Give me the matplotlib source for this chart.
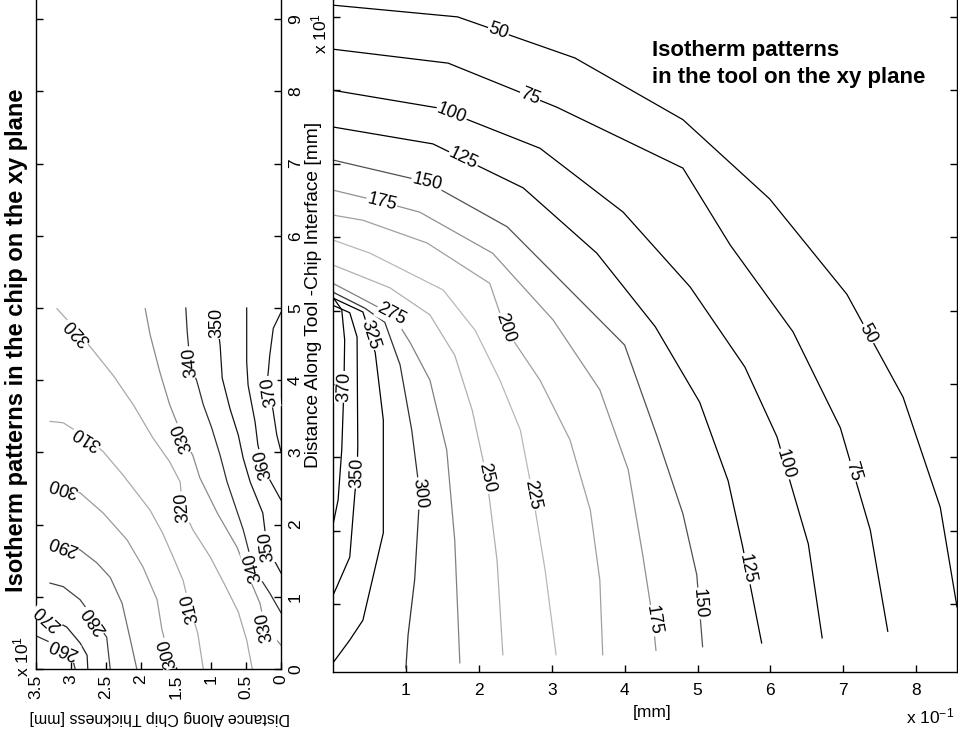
import numpy as np
import matplotlib.pyplot as plt

plt.rcParams['font.family'] = ['Liberation Sans', 'DejaVu Sans']
plt.rcParams['mathtext.fontset'] = 'custom'
plt.rcParams['mathtext.rm'] = 'Liberation Sans'
plt.rcParams['mathtext.default'] = 'regular'

W, H = 958, 730

# ---- chip isotherms (x: chip thickness, y: along tool-chip interface, both x 10^-1 mm)
chip_levels = [260, 270, 280, 290, 300, 310, 320, 330, 340, 350, 360, 370]
chip_x = [
    [3.50, 3.30, 3.11, 2.99, 2.94],
    [3.49, 3.33, 3.06, 2.87, 2.77, 2.76],
    [3.30, 3.11, 2.87, 2.69, 2.49, 2.44],
    [3.30, 3.11, 2.87, 2.63, 2.44, 2.27, 2.16, 2.06],
    [3.30, 3.11, 2.87, 2.54, 2.20, 1.97, 1.77, 1.70, 1.61, 1.59],
    [3.30, 3.11, 2.77, 2.54, 2.26, 1.87, 1.69, 1.54, 1.40, 1.30, 1.19, 1.11],
    [3.20, 2.90, 2.69, 2.40, 2.11, 1.83, 1.59, 1.44, 1.41, 1.26, 1.01, 0.80, 0.61, 0.49, 0.41],
    [1.94, 1.87, 1.73, 1.59, 1.40, 1.26, 1.16, 0.91, 0.63, 0.44, 0.30, 0.23, 0.06, 0.00],
    [1.36, 1.34, 1.30, 1.20, 1.11, 0.99, 0.87, 0.77, 0.54, 0.40, 0.16, 0.00],
    [0.91, 0.91, 0.87, 0.84, 0.73, 0.61, 0.54, 0.44, 0.26, 0.20, 0.00],
    [0.49, 0.49, 0.47, 0.37, 0.33, 0.26, 0.16, 0.00],
    [0.00, 0.11, 0.16, 0.19, 0.16, 0.11, 0.06, 0.00],
]
chip_y = [
    [0.46, 0.37, 0.29, 0.18, 0.00],
    [0.86, 0.72, 0.58, 0.36, 0.19, 0.00],
    [1.19, 1.14, 0.96, 0.72, 0.44, 0.00],
    [1.79, 1.72, 1.65, 1.47, 1.27, 0.91, 0.44, 0.00],
    [2.58, 2.52, 2.44, 2.16, 1.79, 1.41, 0.96, 0.54, 0.22, 0.00],
    [3.43, 3.41, 3.20, 3.01, 2.69, 2.20, 1.88, 1.55, 1.23, 0.84, 0.50, 0.00],
    [4.99, 4.67, 4.42, 4.07, 3.66, 3.20, 2.87, 2.59, 2.24, 1.93, 1.55, 1.16, 0.79, 0.40, 0.00],
    [4.99, 4.63, 4.11, 3.66, 3.20, 2.96, 2.65, 2.16, 1.69, 1.23, 0.91, 0.58, 0.40, 0.33],
    [5.00, 4.67, 4.25, 3.98, 3.66, 3.34, 2.96, 2.59, 1.93, 1.41, 1.05, 0.78],
    [5.00, 4.79, 4.49, 4.03, 3.61, 3.24, 2.92, 2.59, 2.16, 1.69, 1.33],
    [5.00, 4.25, 3.93, 3.42, 3.10, 2.83, 2.62, 2.34],
    [4.94, 4.72, 4.35, 4.03, 3.84, 3.56, 3.24, 3.01],
]
chip_label_level = [260, 270, 280, 290, 300, 300, 310, 310, 320, 320, 330, 330, 340, 340, 350, 350, 360, 370]
chip_label_x = [3.11, 3.33, 2.66, 3.11, 3.11, 1.61, 2.77, 1.30, 2.90, 1.41, 1.40, 0.23, 1.30, 0.40, 0.91, 0.20, 0.26, 0.16]
chip_label_y = [0.29, 0.72, 0.68, 1.72, 2.52, 0.22, 3.20, 0.84, 4.67, 2.24, 3.20, 0.58, 4.25, 1.41, 4.79, 1.69, 2.83, 3.84]

# ---- tool isotherms (x 10^-1 mm)
tool_levels = [50, 75, 100, 125, 150, 175, 200, 225, 250, 275, 300, 325, 350, 370]
tool_x = [
    [0.00, 1.71, 3.32, 4.80, 5.99, 7.05, 7.82, 8.33, 8.56],
    [0.00, 1.58, 3.07, 4.80, 5.45, 6.31, 6.96, 7.37, 7.61],
    [0.00, 1.44, 2.84, 3.98, 4.90, 5.65, 6.09, 6.52, 6.71],
    [0.00, 1.37, 2.61, 3.62, 4.42, 5.03, 5.42, 5.62, 5.88],
    [0.00, 1.29, 2.39, 3.25, 4.00, 4.44, 4.80, 4.99, 5.07],
    [0.00, 0.67, 1.19, 2.19, 3.02, 3.66, 4.05, 4.25, 4.39, 4.43],
    [0.00, 0.41, 1.29, 2.15, 2.36, 2.84, 3.25, 3.53, 3.66, 3.70],
    [0.00, 0.51, 1.51, 1.95, 2.29, 2.57, 2.74, 2.91, 3.06],
    [0.00, 0.78, 1.33, 1.67, 1.91, 2.11, 2.25, 2.33],
    [0.00, 0.44, 0.82, 1.06, 1.33, 1.56, 1.67, 1.74],
    [0.00, 0.44, 0.71, 0.92, 1.08, 1.19, 1.12, 1.03, 1.00],
    [0.00, 0.41, 0.51, 0.58, 0.69, 0.69, 0.41, 0.23, 0.00],
    [0.00, 0.23, 0.33, 0.34, 0.33, 0.30, 0.23, 0.05, 0.00],
    [0.00, 0.12, 0.16, 0.15, 0.12, 0.07, 0.00],
]
tool_y = [
    [9.16, 9.00, 8.44, 7.60, 6.52, 5.22, 3.82, 2.32, 0.96],
    [8.56, 8.37, 7.77, 6.94, 5.89, 4.71, 3.40, 2.01, 0.63],
    [8.00, 7.76, 7.21, 6.34, 5.32, 4.23, 3.28, 1.82, 0.54],
    [7.50, 7.27, 6.67, 5.78, 4.78, 3.75, 2.68, 1.78, 0.47],
    [7.05, 6.75, 6.14, 5.28, 4.53, 3.30, 2.23, 1.40, 0.42],
    [6.64, 6.48, 6.34, 5.78, 4.87, 3.92, 2.83, 1.66, 0.77, 0.37],
    [6.30, 6.23, 5.92, 5.37, 4.76, 4.05, 3.24, 2.28, 1.33, 0.31],
    [5.96, 5.78, 5.28, 4.73, 4.05, 3.37, 2.49, 1.46, 0.31],
    [5.62, 5.31, 4.94, 4.39, 3.64, 2.72, 1.60, 0.31],
    [5.37, 5.14, 4.94, 4.56, 4.05, 3.10, 1.87, 0.20],
    [5.25, 5.03, 4.84, 4.26, 3.37, 2.51, 1.33, 0.58, 0.13],
    [5.17, 4.98, 4.67, 4.42, 3.51, 1.97, 0.78, 0.51, 0.20],
    [5.07, 4.97, 4.64, 3.14, 2.79, 2.51, 1.64, 1.23, 1.12],
    [5.18, 5.01, 4.60, 3.96, 3.10, 2.42, 2.08],
]
tool_label_level = [50, 50, 75, 75, 100, 100, 125, 125, 150, 150, 175, 175, 200, 225, 250, 275, 300, 325, 350, 370]
tool_label_x = [2.26, 7.33, 2.70, 7.10, 1.63, 6.17, 1.78, 5.72, 1.29, 5.03, 0.67, 4.35, 2.36, 2.74, 2.11, 0.82, 1.19, 0.51, 0.33, 0.14]
tool_label_y = [8.78, 4.68, 7.91, 2.80, 7.69, 2.90, 7.05, 1.49, 6.75, 1.01, 6.48, 0.77, 4.76, 2.49, 2.72, 4.98, 2.51, 4.67, 2.79, 3.96]

# grey shades of the printed colormap
chip_colors = ['#303030', '#202020', '#404040', '#707070', '#999999', '#aaaaaa',
               '#a8a8a8', '#8a8a8a', '#303030', '#151515', '#151515', '#151515']
tool_colors = ['k', 'k', 'k', 'k', '#505050', '#909090', '#a0a0a0', '#b8b8b8',
               '#b0b0b0', '#808080', '#303030', 'k', 'k', 'k']


def px_axes(fig, left, top, right, bottom):
    return fig.add_axes([left / W, 1 - bottom / H, (right - left) / W, (bottom - top) / H])


def label_lines(ax, xs_list, ys_list, levels, lab_lv, lab_x, lab_y, lo):
    # inline labels: snap to the nearest point of the isotherm, follow its direction
    for lv, lx, ly in zip(lab_lv, lab_x, lab_y):
        i = levels.index(lv)
        pts = ax.transData.transform(np.column_stack([xs_list[i], ys_list[i]]))
        p = ax.transData.transform((lx, ly))
        best = None
        for a, b in zip(pts[:-1], pts[1:]):
            ab = b - a
            t = np.clip(np.dot(p - a, ab) / np.dot(ab, ab), 0, 1)
            q = a + t * ab
            d = np.hypot(*(q - p))
            if best is None or d < best[0]:
                best = (d, q, ab)
        _, q, ab = best
        ang = np.degrees(np.arctan2(ab[1], ab[0]))
        ang = (ang - lo) % 180 + lo
        x, y = ax.transData.inverted().transform(q)
        ax.text(x, y, str(lv), rotation=ang, rotation_mode='anchor', ha='center', va='center',
                fontsize=13, bbox=dict(boxstyle='square,pad=0.05', fc='white', ec='none'))


def style_axes(ax):
    ax.spines['top'].set_visible(False)
    for s in ax.spines.values():
        s.set_linewidth(1.0)
    ax.tick_params(direction='in', length=5, width=1.0, labelsize=12.5)


fig = plt.figure(figsize=(W / 100, H / 100), dpi=100)

# ---- left panel: chip
ax1 = px_axes(fig, 36, 0, 281, 669)
ax1.set_xlim(3.5, 0)
ax1.set_ylim(0, 669 / 72.2)
for xs, ys, c in zip(chip_x, chip_y, chip_colors):
    ax1.plot(xs, ys, color=c, lw=0.9)
style_axes(ax1)
ax1.set_xticks(np.arange(0, 3.51, 0.5))
ax1.set_xticklabels(['0', '0.5', '1', '1.5', '2', '2.5', '3', '3.5'])
ax1.tick_params(axis='x', labelrotation=90, pad=4)
ax1.set_yticks(range(10))
ax1.tick_params(axis='y', left=True, right=True, labelleft=False, labelright=True,
                labelrotation=90, pad=5)
for t in ax1.get_yticklabels():
    t.set_va('center')
label_lines(ax1, chip_x, chip_y, chip_levels, chip_label_level, chip_label_x, chip_label_y, 0)

# ---- right panel: tool
ax2 = px_axes(fig, 333, 0, 957, 672)
ax2.set_xlim(0, 624 / 72.9)
ax2.set_ylim(5.5 / 73.4, 677.5 / 73.4)
for xs, ys, c in zip(tool_x, tool_y, tool_colors):
    ax2.plot(xs, ys, color=c, lw=0.9)
style_axes(ax2)
ax2.set_xticks(range(1, 9))
ax2.tick_params(axis='x', pad=8)
ax2.set_yticks(range(1, 10))
ax2.tick_params(axis='y', left=True, right=True, labelleft=False, labelright=False)
label_lines(ax2, tool_x, tool_y, tool_levels, tool_label_level, tool_label_x, tool_label_y, -90)

# ---- texts
fig.text(17 / W, 1 - 340 / H, 'Isotherm patterns in the chip on the xy plane', rotation=90,
         fontsize=17, fontweight='bold', ha='center', va='center')
fig.text(652 / W, 1 - 40 / H, 'Isotherm patterns\nin the tool on the xy plane',
         fontsize=16, fontweight='bold', ha='left', va='top', linespacing=1.4)
fig.text(313 / W, 1 - 295 / H, 'Distance Along Tool -Chip Interface [mm]', rotation=90,
         fontsize=13.8, ha='center', va='center')
fig.text(160 / W, 1 - 717 / H, 'Distance Along Chip Thickness [mm]', rotation=180,
         fontsize=11.5, ha='center', va='center')
fig.text(21 / W, 1 - 656 / H, 'x 10$^{1}$', rotation=90, fontsize=12.5, ha='center', va='center')
fig.text(319 / W, 1 - 33 / H, 'x 10$^{1}$', rotation=90, fontsize=12.5, ha='center', va='center')
fig.text(652 / W, 1 - 712 / H, '[mm]', fontsize=12.5, ha='center', va='center')
fig.text(930 / W, 1 - 716 / H, 'x 10$^{-1}$', fontsize=12.5, ha='center', va='center')

fig.savefig('out.png', dpi=100)
